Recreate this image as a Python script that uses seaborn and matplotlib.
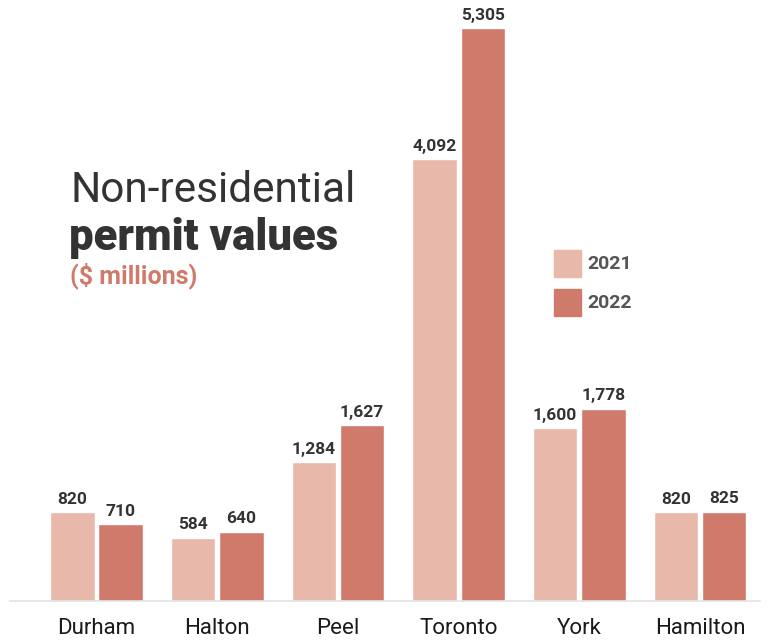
import pandas as pd
import matplotlib.pyplot as plt
import seaborn as sns

# Permit values, $ millions
regions = ["Durham", "Halton", "Peel", "Toronto", "York", "Hamilton"]
values_2021 = [820, 584, 1284, 4092, 1600, 820]
values_2022 = [710, 640, 1627, 5305, 1778, 825]
years = ["2021", "2022"]
colors = ["#E8B9AA", "#D07A6B"]

df = pd.DataFrame({
    "region": regions * 2,
    "year": [years[0]] * len(regions) + [years[1]] * len(regions),
    "value": values_2021 + values_2022,
})

sns.set_style("white")
font = ["Roboto", "DejaVu Sans"]

fig = plt.figure(figsize=(7.72, 6.4), dpi=100)
ax = fig.add_axes([10 / 772, 39 / 640, 750 / 772, 601 / 640])

sns.barplot(data=df, x="region", y="value", hue="year", palette=colors,
            width=0.8, gap=0.08, saturation=1, ax=ax, legend=False)

ax.set_xlim(-0.717, 5.497)
ax.set_ylim(0, 5565)
for s in ["top", "right", "left"]:
    ax.spines[s].set_visible(False)
ax.spines["bottom"].set_color("#e3e3e3")
ax.spines["bottom"].set_linewidth(1.2)
ax.set_yticks([])
ax.set_xlabel("")
ax.set_ylabel("")
ax.tick_params(axis="x", length=0, pad=12, labelsize=16, labelcolor="#1a1a1a")
for lab in ax.get_xticklabels():
    lab.set_family(font)

for cont in ax.containers:
    labels = [f"{v:,.0f}" for v in cont.datavalues]
    ax.bar_label(cont, labels=labels, padding=4, fontsize=12.5,
                 fontweight="bold", color="#333333", family=font)

# title block
fig.text(70 / 772, 1 - 190 / 640, "Non-residential", fontsize=30.5,
         family=font, color="#333333", va="center", ha="left")
fig.text(69 / 772, 1 - 238 / 640, "permit values", fontsize=31.5,
         family=font, fontweight="black", color="#333333", va="center", ha="left")
fig.text(70 / 772, 1 - 276 / 640, "($ millions)", fontsize=18,
         family=font, fontweight="bold", color="#D07A6B", va="center", ha="left")

# legend
for i, (yr, c) in enumerate(zip(years, colors)):
    ytop = 250 + i * 39
    fig.patches.append(plt.Rectangle((554 / 772, 1 - (ytop + 27) / 640), 27 / 772, 27 / 640,
                                     transform=fig.transFigure, color=c, figure=fig))
    fig.text(587 / 772, 1 - (ytop + 14) / 640, yr, fontsize=14, family=font,
             fontweight="bold", color="#555555", va="center", ha="left")

plt.savefig("out.png", dpi=100)
plt.close()
